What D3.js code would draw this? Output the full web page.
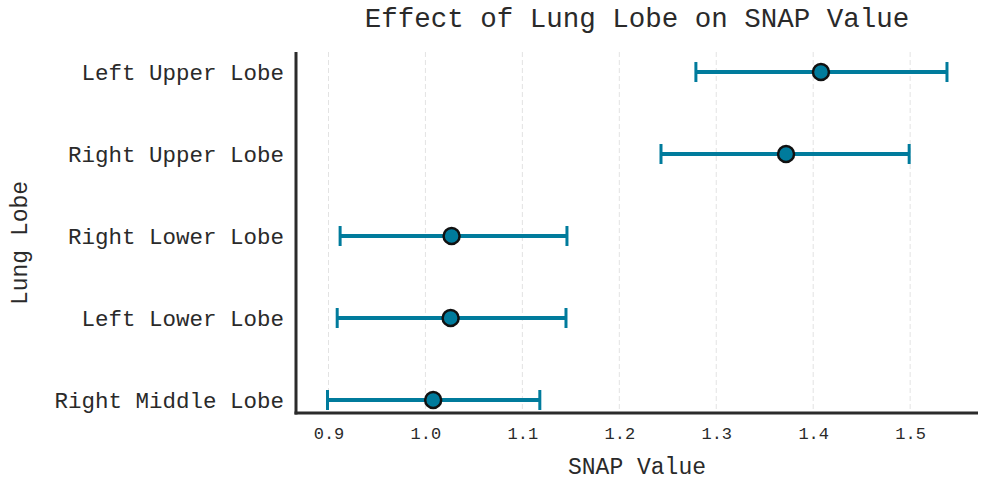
<!DOCTYPE html>
<html>
<head>
<meta charset="utf-8">
<script src="https://cdn.jsdelivr.net/npm/d3@7"></script>
<style>
  body { margin: 0; background: #fff; }
  text { font-family: "Liberation Mono", "Courier New", monospace; fill: #2a2a2a; }
</style>
</head>
<body>
<script>
// lobes, top to bottom
var lobes = ["Left Upper Lobe", "Right Upper Lobe", "Right Lower Lobe", "Left Lower Lobe", "Right Middle Lobe"];
var means = [1.408, 1.372, 1.027, 1.026, 1.008];
var lower = [1.279, 1.243, 0.912, 0.909, 0.899];
var upper = [1.538, 1.499, 1.146, 1.145, 1.118];
var xTicks = [0.9, 1.0, 1.1, 1.2, 1.3, 1.4, 1.5];

var W = 987, H = 487;
var mLeft = 296, mRight = 978, mTop = 52, mBottom = 413;
var color = "#007b9c";

var svg = d3.select("body").append("svg")
            .attr("width", W)
            .attr("height", H);

var x = d3.scaleLinear()
          .domain([0.8665, 1.570])
          .range([mLeft, mRight]);

var y = d3.scalePoint()
          .domain(lobes)
          .range([72, 400]);

// grid
svg.append("g").selectAll("line")
   .data(xTicks)
   .enter().append("line")
   .attr("x1", function(d){ return x(d); })
   .attr("x2", function(d){ return x(d); })
   .attr("y1", mTop)
   .attr("y2", mBottom)
   .attr("stroke", "#e3e3e3")
   .attr("stroke-width", 1)
   .attr("stroke-dasharray", "5,3");

// x axis
var xAxis = svg.append("g")
   .attr("transform", "translate(0," + mBottom + ")")
   .call(d3.axisBottom(x).tickValues(xTicks).tickSize(0).tickPadding(14).tickFormat(d3.format(".1f")));
xAxis.select(".domain").remove();
xAxis.selectAll("text").style("font-size", "17px").style("font-family", "Liberation Mono");

// y axis
var yAxis = svg.append("g")
   .attr("transform", "translate(" + mLeft + ",0)")
   .call(d3.axisLeft(y).tickSize(0).tickPadding(12));
yAxis.select(".domain").remove();
yAxis.selectAll("text").style("font-size", "22.5px").style("font-family", "Liberation Mono");

// error bars
var rows = lobes.map(function(d, i){ return {lobe: d, m: means[i], lo: lower[i], hi: upper[i]}; });
var g = svg.append("g");
g.selectAll(".bar").data(rows).enter().append("line")
 .attr("x1", function(d){ return x(d.lo); })
 .attr("x2", function(d){ return x(d.hi); })
 .attr("y1", function(d){ return y(d.lobe); })
 .attr("y2", function(d){ return y(d.lobe); })
 .attr("stroke", color).attr("stroke-width", 4);
["lo", "hi"].forEach(function(k){
  g.selectAll(".cap-" + k).data(rows).enter().append("line")
   .attr("x1", function(d){ return x(d[k]); })
   .attr("x2", function(d){ return x(d[k]); })
   .attr("y1", function(d){ return y(d.lobe) - 10; })
   .attr("y2", function(d){ return y(d.lobe) + 10; })
   .attr("stroke", color).attr("stroke-width", 3);
});
g.selectAll("circle").data(rows).enter().append("circle")
 .attr("cx", function(d){ return x(d.m); })
 .attr("cy", function(d){ return y(d.lobe); })
 .attr("r", 8)
 .attr("fill", color)
 .attr("stroke", "#111")
 .attr("stroke-width", 2.5);

// spines
svg.append("line").attr("x1", mLeft).attr("x2", mLeft).attr("y1", mTop).attr("y2", mBottom + 1.5)
   .attr("stroke", "#2b2b2b").attr("stroke-width", 3);
svg.append("line").attr("x1", mLeft - 1.5).attr("x2", mRight).attr("y1", mBottom).attr("y2", mBottom)
   .attr("stroke", "#2b2b2b").attr("stroke-width", 3);

// labels
svg.append("text").attr("x", 637).attr("y", 27).attr("text-anchor", "middle")
   .style("font-size", "27.5px").text("Effect of Lung Lobe on SNAP Value");
svg.append("text").attr("x", 637).attr("y", 474).attr("text-anchor", "middle")
   .style("font-size", "23px").text("SNAP Value");
svg.append("text").attr("transform", "translate(27,243) rotate(-90)").attr("text-anchor", "middle")
   .style("font-size", "23px").text("Lung Lobe");
</script>
</body>
</html>
